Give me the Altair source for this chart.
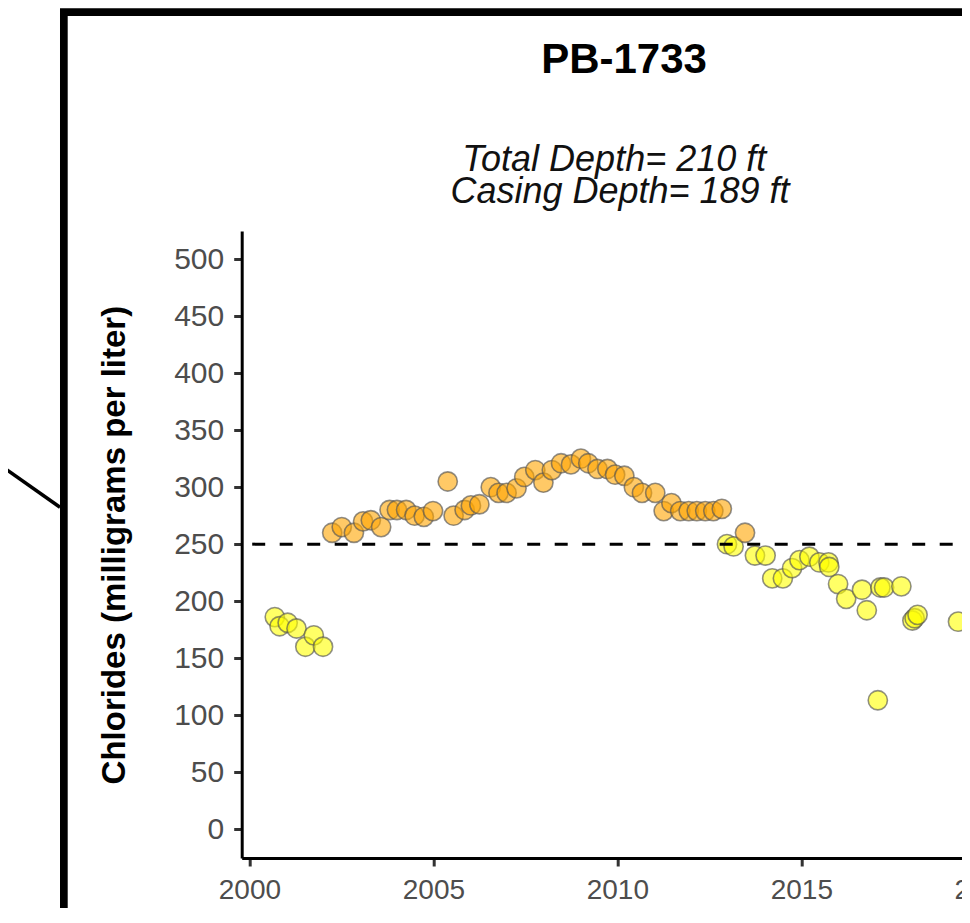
import altair as alt
import pandas as pd

# ---- data ----
years = [
    2000.69, 2000.82, 2001.04, 2001.28, 2001.52, 2001.75, 2002.00,
    2002.25, 2002.51, 2002.84, 2003.09, 2003.30, 2003.58, 2003.81, 2004.01,
    2004.26, 2004.49, 2004.74, 2004.99, 2005.39, 2005.55, 2005.85, 2006.02,
    2006.25, 2006.56, 2006.77, 2006.99, 2007.26, 2007.47, 2007.77, 2007.99,
    2008.22, 2008.47, 2008.74, 2009.01, 2009.21, 2009.46, 2009.73, 2009.94,
    2010.19, 2010.45, 2010.67, 2011.03, 2011.26, 2011.47, 2011.71, 2011.94,
    2012.16, 2012.39, 2012.61, 2012.84,
    2012.98, 2013.16, 2013.47, 2013.74, 2014.03, 2014.21, 2014.50, 2014.75,
    2014.95, 2015.22, 2015.49, 2015.74, 2015.76, 2016.00, 2016.22, 2016.65,
    2016.78, 2017.08, 2017.15, 2017.25, 2017.72, 2018.02, 2018.08, 2018.16,
    2019.26,
]
chlorides = [
    186, 178, 181, 176, 160, 170, 160,
    260, 265, 260, 270, 271, 265, 280, 280,
    280, 275, 274, 279, 305, 275, 280, 284,
    285, 300, 295, 295, 299, 309, 315, 304,
    315, 321, 320, 325, 321, 316, 316, 311,
    310, 300, 295, 295, 279, 286, 279, 279,
    279, 279, 279, 281,
    250, 248, 260, 240, 240, 220, 220, 229,
    236, 239, 234, 234, 230, 215, 202, 210,
    192, 113, 212, 212, 213, 183, 185, 188,
    182,
]
standard = [250]
x_ticks = [2000, 2005, 2010, 2015, 2020]
y_ticks = [0, 50, 100, 150, 200, 250, 300, 350, 400, 450, 500]
status_names = ["Above", "Below"]
status_colors = ["#FFA500", "#FFFF00"]

title_text = "PB-1733"
subtitle_line1 = "Total Depth= 210 ft"
subtitle_line2 = "Casing Depth= 189 ft"
y_title = "Chlorides (milligrams per liter)"

df = pd.DataFrame({"year": years, "chloride": chlorides})
df["status"] = ["Above" if v > standard[0] else "Below" for v in chlorides]

FONT = "Liberation Sans"
W, H = 766, 627

xscale = alt.Scale(domain=[1999.79, 2020.61], nice=False, zero=False)
yscale = alt.Scale(domain=[-25.4, 524.8], nice=False, zero=False)

x_axis = alt.Axis(
    values=x_ticks, format="d", title=None, grid=False,
    labelFontSize=28, labelColor="#4d4d4d", labelFont=FONT, labelPadding=10,
    tickSize=8, tickWidth=3, tickColor="#333333",
    domainWidth=3, domainColor="black", labelFlush=False, labelOverlap=False,
)
y_axis = alt.Axis(
    values=y_ticks, title=y_title, grid=False,
    labelFontSize=30, labelColor="#4d4d4d", labelFont=FONT, labelPadding=10,
    tickSize=8, tickWidth=3, tickColor="#333333",
    domainWidth=3, domainColor="black",
    titleFont=FONT, titleFontSize=33, titleFontWeight="bold", titleColor="black",
    titleAngle=270, titleX=-110, titleY=313.6, titleAlign="center",
    titleBaseline="bottom",
)

points = alt.Chart(df).mark_circle(
    size=370, fillOpacity=0.6, stroke="#555555", strokeWidth=1.6, strokeOpacity=0.65
).encode(
    x=alt.X("year:Q", scale=xscale, axis=x_axis),
    y=alt.Y("chloride:Q", scale=yscale, axis=y_axis),
    color=alt.Color("status:N", scale=alt.Scale(domain=status_names, range=status_colors), legend=None),
)

rule = alt.Chart(pd.DataFrame({"standard": standard})).mark_rule(
    color="black", strokeWidth=3, strokeDash=[13, 14.5]
).encode(y=alt.Y("standard:Q", scale=yscale))

deco = pd.DataFrame({"k": [0]})
frame = alt.Chart(deco).mark_rect(
    fillOpacity=0, stroke="black", strokeWidth=7.7
).encode(
    x=alt.value(-177.85), x2=alt.value(1100),
    y=alt.value(-218.85), y2=alt.value(1100),
)
diag = alt.Chart(deco).mark_rule(color="black", strokeWidth=3.5).encode(
    x=alt.value(-241.7), y=alt.value(234),
    x2=alt.value(-181.7), y2=alt.value(276.3),
)

title_mark = alt.Chart(deco).mark_text(
    font=FONT, fontSize=42, fontWeight="bold", color="black",
    align="center", baseline="alphabetic",
).encode(x=alt.value(382.3), y=alt.value(-158.3), text=alt.value(title_text))

sub1 = alt.Chart(deco).mark_text(
    font=FONT, fontSize=36, fontStyle="italic", color="#111111",
    align="center", baseline="alphabetic",
).encode(x=alt.value(372.6), y=alt.value(-59.8), text=alt.value(subtitle_line1))

sub2 = alt.Chart(deco).mark_text(
    font=FONT, fontSize=36, fontStyle="italic", color="#111111",
    align="center", baseline="alphabetic",
).encode(x=alt.value(378.3), y=alt.value(-27.7), text=alt.value(subtitle_line2))

chart = alt.layer(points, rule, frame, diag, title_mark, sub1, sub2).properties(
    width=W, height=H,
    background="white",
    autosize=alt.AutoSizeParams(type="none"),
    padding={"left": 233.7, "top": 223, "right": -45.7, "bottom": 50},
).configure_view(stroke=None)

chart.save("out.html", embed_options={"renderer": "svg", "actions": False})
